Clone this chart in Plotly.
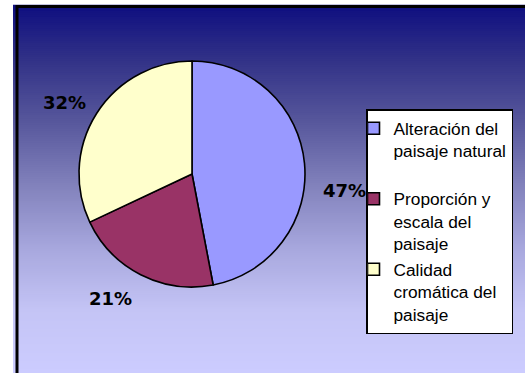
import numpy as np
import plotly.graph_objects as go

# Chart data
categories = [
    "Alteración del<br>paisaje natural<br> ",
    "Proporción y<br>escala del<br>paisaje",
    "Calidad<br>cromática del<br>paisaje",
]
shares = [47, 21, 32]
slice_colors = ["#9999FF", "#993366", "#FFFFCC"]

# Pixel centres of the percentage labels (placed around the pie)
label_xy = [(344, 190), (110, 298), (64, 103)]

W, H = 525, 373

fig = go.Figure()

fig.add_trace(go.Pie(
    labels=categories,
    values=shares,
    sort=False,
    direction="clockwise",
    rotation=0,
    marker=dict(colors=slice_colors, line=dict(color="black", width=1.6)),
    textinfo="none",
    domain=dict(x=[78 / W, 306 / W], y=[1 - 287 / H, 1 - 61 / H]),
    hoverinfo="label+percent",
))

total = sum(shares)
annotations = []
for v, (px, py) in zip(shares, label_xy):
    annotations.append(dict(
        x=px / W, y=1 - py / H, xref="paper", yref="paper",
        xanchor="center", yanchor="middle", showarrow=False,
        text=f"{round(100 * v / total)}%",
        font=dict(family="DejaVu Sans", size=18, color="black", weight="bold"),
    ))

# Vertical background gradient built from thin bands
stops_y = [5, 60, 120, 186, 250, 310, 373]
stops_c = [
    (14, 14, 128),
    (50, 50, 135),
    (86, 86, 155),
    (130, 130, 188),
    (168, 168, 222),
    (196, 196, 245),
    (204, 204, 255),
]
shapes = []
band = 2
for y0 in range(5, H, band):
    y1 = min(y0 + band, H)
    yc = (y0 + y1) / 2
    r = np.interp(yc, stops_y, [c[0] for c in stops_c])
    g = np.interp(yc, stops_y, [c[1] for c in stops_c])
    b = np.interp(yc, stops_y, [c[2] for c in stops_c])
    shapes.append(dict(
        type="rect", xref="paper", yref="paper", layer="below",
        x0=13 / W, x1=1, y0=1 - y1 / H, y1=1 - y0 / H + 0.001,
        fillcolor=f"rgb({r:.0f},{g:.0f},{b:.0f})", line=dict(width=0),
    ))

# Frame lines on the left and top edges
shapes.append(dict(type="line", xref="paper", yref="paper", layer="below",
                   x0=17 / W, x1=17 / W, y0=0, y1=1 - 5 / H,
                   line=dict(color="black", width=3)))
shapes.append(dict(type="line", xref="paper", yref="paper", layer="below",
                   x0=16 / W, x1=1, y0=1 - 6.5 / H, y1=1 - 6.5 / H,
                   line=dict(color="black", width=3)))

fig.update_layout(
    width=W, height=H,
    margin=dict(l=0, r=0, t=0, b=0),
    paper_bgcolor="white",
    plot_bgcolor="white",
    shapes=shapes,
    annotations=annotations,
    showlegend=True,
    legend=dict(
        x=366 / W, y=1 - 109 / H, xanchor="left", yanchor="top",
        bgcolor="white", bordercolor="black", borderwidth=1.5,
        font=dict(family="Liberation Sans", size=17.3, color="black"),
        valign="top",
        indentation=-14,
        tracegroupgap=0,
    ),
)

fig.write_html("out.html")
